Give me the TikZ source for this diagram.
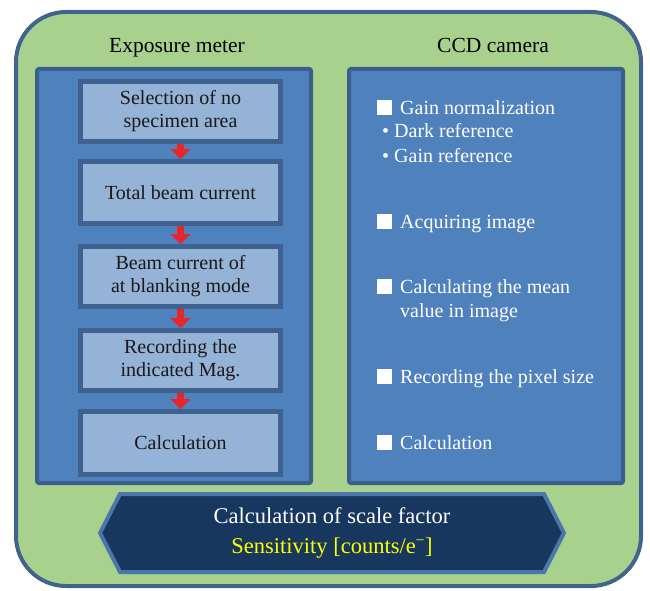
\documentclass[tikz,border=0pt]{standalone}
\usepackage{fontspec}
\setmainfont{Liberation Serif}
\usetikzlibrary{arrows.meta}

\definecolor{leafgreen}{HTML}{A9D18E}
\definecolor{rimblue}{HTML}{41648F}
\definecolor{panelblue}{HTML}{4F81BD}
\definecolor{paneledge}{HTML}{3A5F8C}
\definecolor{boxfill}{HTML}{95B3D7}
\definecolor{boxedge}{HTML}{3E6190}
\definecolor{navy}{HTML}{17375E}
\definecolor{hexedge}{HTML}{4A76AC}
\definecolor{arrowred}{HTML}{E8262A}
\definecolor{signyellow}{HTML}{FFFF00}

\begin{document}
\begin{tikzpicture}[x=1pt,y=-1pt,
  bodyfont/.style={font=\fontsize{20}{23}\selectfont},
  titlefont/.style={font=\fontsize{21.5}{25}\selectfont},
  panel/.style={fill=panelblue, draw=paneledge, line width=4pt, rounded corners=2pt},
  stepbox/.style={bodyfont, fill=boxfill, draw=boxedge, line width=5pt,
    minimum width=200pt, align=center, text=black!90, inner sep=2pt},
  flowarrow/.style={draw=arrowred, line width=7pt,
    -{Triangle[width=20pt,length=10pt,fill=arrowred]}},
  item/.style={bodyfont, text=white, anchor=base west, inner sep=0pt},
  tick/.style={fill=white, minimum size=15pt, inner sep=0pt, anchor=south west}
]
\useasboundingbox (0,0) rectangle (650,591);

% outer frame
\draw[fill=leafgreen, draw=rimblue, line width=4pt, rounded corners=50pt]
  (16,12) rectangle (641,586);

% the two columns
\draw[panel] (37,69) rectangle (311,483);
\draw[panel] (349,69) rectangle (623,483);

\node[titlefont, anchor=base] (tleft) at (177,53) {Exposure meter};
\node[titlefont, anchor=base] (tright) at (493,53) {CCD camera};

% exposure meter steps
\node[stepbox, minimum height=60pt] (b1) at (180.5,111.5) {Selection of no\\specimen area};
\node[stepbox, minimum height=62pt] (b2) at (180.5,192.5) {Total beam current};
\node[stepbox, minimum height=60pt] (b3) at (180.5,276.5) {Beam current of\\at blanking mode};
\node[stepbox, minimum height=60pt] (b4) at (180.5,360.5) {Recording the\\indicated Mag.};
\node[stepbox, minimum height=63pt] (b5) at (180.5,443) {Calculation};

\draw[flowarrow] (b1.south) -- (b2.north);
\draw[flowarrow] (b2.south) -- (b3.north);
\draw[flowarrow] (b3.south) -- (b4.north);
\draw[flowarrow] (b4.south) -- (b5.north);

% CCD camera checklist
\node[tick] (s1) at (377,115) {};
\node[item] (c1) at (400,114) {Gain normalization};
\node[item] (c1a) at (382,137) {\textbullet\ Dark reference};
\node[item] (c1b) at (382,162) {\textbullet\ Gain reference};
\node[tick] (s2) at (377,229) {};
\node[item] (c2) at (400,228) {Acquiring image};
\node[tick] (s3) at (377,294) {};
\node[item] (c3) at (400,293) {Calculating the mean};
\node[item] (c3b) at (400,317) {value in image};
\node[tick] (s4) at (377,384) {};
\node[item] (c4) at (400,383) {Recording the pixel size};
\node[tick] (s5) at (377,450) {};
\node[item] (c5) at (400,449) {Calculation};

% result banner
\draw[fill=navy, draw=hexedge, line width=4pt, line join=miter]
  (100,533) -- (120,494) -- (544,494) -- (564,533) -- (544,572) -- (120,572) -- cycle;
\node[font=\fontsize{22.5}{26}\selectfont, text=white, anchor=base] (h1) at (332,523)
  {Calculation of scale factor};
\node[font=\fontsize{22.5}{26}\selectfont, text=signyellow, anchor=base] (h2) at (332,553)
  {Sensitivity [counts/e\textsuperscript{−}]};
\end{tikzpicture}
\end{document}
